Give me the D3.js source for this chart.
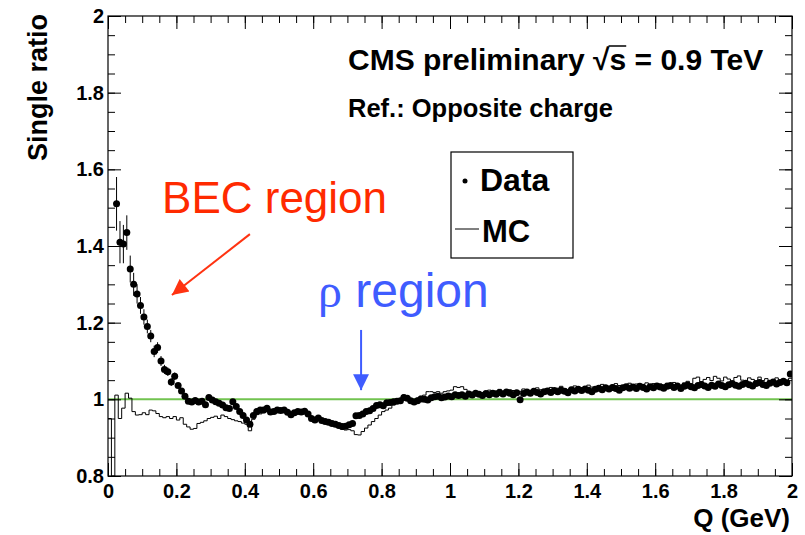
<!DOCTYPE html>
<html>
<head>
<meta charset="utf-8">
<script src="https://cdn.jsdelivr.net/npm/d3@7"></script>
<style>
  body { margin: 0; background: #fff; }
  svg { display: block; font-family: "Liberation Sans", Arial, sans-serif; }
</style>
</head>
<body>
<svg id="chart" width="805" height="535"></svg>
<script>
// Histogram binning: 200 bins of 0.01 GeV from Q = 0 to 2
const binStart = 0;
const binWidth = 0.01;

// Data (single ratio), one value per bin, null where empty
const dataValues = [
  null, null, 1.51, 1.41, 1.405, 1.435, 1.34, 1.30, 1.275, 1.245,
  1.215, 1.19, 1.165, 1.125, 1.135, 1.10, 1.078, 1.072, 1.045, 1.06,
  1.036, 1.022, 1.008, 0.995, 0.993, 0.997, 0.993, 0.995, 0.986, 1.005,
  0.998, 0.994, 0.990, 0.985, 0.978, 0.976, 0.994, 0.981, 0.968, 0.958,
  0.946, 0.935, 0.958, 0.968, 0.972, 0.972, 0.977, 0.967, 0.968, 0.972,
  0.971, 0.972, 0.966, 0.960, 0.965, 0.968, 0.967, 0.969, 0.962, 0.950,
  0.946, 0.951, 0.945, 0.942, 0.940, 0.937, 0.935, 0.932, 0.929, 0.930,
  0.934, 0.937, 0.957, 0.958, 0.962, 0.968, 0.970, 0.976, 0.984, 0.986,
  0.983, 0.991, 0.992, 0.994, 0.995, 0.996, 1.005, 1.003, 0.996, 0.993,
  0.996, 1.001, 1.000, 0.998, 1.004, 1.007, 1.008, 1.004, 1.006, 1.009,
  1.007, 1.012, 1.010, 1.012, 1.008, 1.014, 1.011, 1.016, 1.013, 1.010,
  1.015, 1.012, 1.016, 1.013, 1.018, 1.014, 1.019, 1.016, 1.012, 1.017,
  0.999, 1.015, 1.019, 1.016, 1.021, 1.018, 1.014, 1.020, 1.022, 1.018,
  1.023, 1.020, 1.024, 1.021, 1.017, 1.025, 1.022, 1.026, 1.023, 1.027,
  1.024, 1.020, 1.026, 1.029, 1.025, 1.030, 1.027, 1.031, 1.028, 1.024,
  1.030, 1.033, 1.029, 1.032, 1.028, 1.034, 1.031, 1.027, 1.033, 1.030,
  1.035, 1.032, 1.029, 1.034, 1.036, 1.031, 1.035, 1.028, 1.034, 1.037,
  1.033, 1.030, 1.036, 1.039, 1.035, 1.031, 1.037, 1.034, 1.040, 1.036,
  1.033, 1.038, 1.041, 1.037, 1.034, 1.039, 1.042, 1.038, 1.035, 1.041,
  1.044, 1.039, 1.036, 1.042, 1.045, 1.040, 1.044, 1.047, 1.043, 1.066
];

// Statistical errors, only visible ones (low Q)
const dataErrors = [
  0, 0, 0.07, 0.055, 0.05, 0.045, 0.035, 0.03, 0.025, 0.022,
  0.02, 0.018, 0.016, 0.015, 0.014, 0.013, 0.012, 0.011, 0.01, 0.01
];

// MC single ratio, one value per bin
const mcValues = [
  0.95, 0, 1.011, 0.95, 0.977, 1.016, 1.003, 0.968, 0.959, 0.960,
  0.965, 0.960, 0.972, 0.970, 0.963, 0.955, 0.952, 0.955, 0.950, 0.955,
  0.946, 0.952, 0.935, 0.928, 0.922, 0.924, 0.937, 0.940, 0.944, 0.950,
  0.953, 0.956, 0.950, 0.959, 0.955, 0.950, 0.947, 0.944, 0.942, 0.938,
  0.935, 0.918, 0.948, 0.960, 0.962, 0.965, 0.968, 0.966, 0.970, 0.967,
  0.972, 0.968, 0.966, 0.963, 0.966, 0.969, 0.965, 0.968, 0.962, 0.955,
  0.950, 0.947, 0.944, 0.940, 0.938, 0.935, 0.930, 0.926, 0.922, 0.920,
  0.921, 0.918, 0.908, 0.907, 0.916, 0.925, 0.933, 0.942, 0.950, 0.959,
  0.968, 0.972, 0.977, 0.985, 0.990, 0.994, 1.011, 1.003, 0.994, 1.000,
  1.003, 1.008, 1.011, 1.020, 1.020, 1.018, 1.020, 1.016, 1.020, 1.022,
  1.024, 1.033, 1.031, 1.033, 1.026, 1.016, 1.014, 1.012, 1.018, 1.015,
  1.020, 1.024, 1.019, 1.022, 1.026, 1.021, 1.018, 1.025, 1.023, 1.019,
  1.021, 1.027, 1.024, 1.020, 1.026, 1.030, 1.025, 1.022, 1.028, 1.031,
  1.026, 1.029, 1.034, 1.028, 1.025, 1.031, 1.035, 1.030, 1.027, 1.033,
  1.037, 1.032, 1.029, 1.035, 1.039, 1.034, 1.031, 1.037, 1.041, 1.036,
  1.033, 1.038, 1.042, 1.036, 1.040, 1.035, 1.039, 1.043, 1.037, 1.041,
  1.036, 1.040, 1.038, 1.042, 1.039, 1.044, 1.040, 1.037, 1.043, 1.047,
  1.041, 1.055, 1.058, 1.046, 1.052, 1.057, 1.049, 1.060, 1.055, 1.048,
  1.058, 1.053, 1.046, 1.057, 1.061, 1.050, 1.044, 1.056, 1.052, 1.047,
  1.058, 1.049, 1.054, 1.045, 1.051, 1.056, 1.048, 1.053, 1.047, 1.055
];

const xTicks = [0, 0.2, 0.4, 0.6, 0.8, 1, 1.2, 1.4, 1.6, 1.8, 2];
const xTickLabels = ["0", "0.2", "0.4", "0.6", "0.8", "1", "1.2", "1.4", "1.6", "1.8", "2"];
const yTicks = [0.8, 1, 1.2, 1.4, 1.6, 1.8, 2];
const yTickLabels = ["0.8", "1", "1.2", "1.4", "1.6", "1.8", "2"];
const minorStep = 0.05;

const svg = d3.select('#chart');
const frameLeft = 108, frameRight = 792, frameTop = 16, frameBottom = 476;

const x = d3.scaleLinear().domain([0, 2]).range([frameLeft, frameRight]);
const y = d3.scaleLinear().domain([0.8, 2]).range([frameBottom, frameTop]).clamp(true);

svg.append('rect').attr('width', 805).attr('height', 535).attr('fill', '#fff');

svg.append('clipPath').attr('id', 'plot')
  .append('rect').attr('x', frameLeft).attr('y', frameTop)
  .attr('width', frameRight - frameLeft).attr('height', frameBottom - frameTop);

const plot = svg.append('g').attr('clip-path', 'url(#plot)');

// reference line at 1
plot.append('line')
  .attr('x1', x(0)).attr('x2', x(2))
  .attr('y1', y(1)).attr('y2', y(1))
  .attr('stroke', '#72c350').attr('stroke-width', 2);

// MC histogram outline
const mcSteps = mcValues.map((v, i) => ({ q: binStart + i * binWidth, v }));
mcSteps.push({ q: binStart + mcValues.length * binWidth, v: mcValues[mcValues.length - 1] });
plot.append('path')
  .datum(mcSteps)
  .attr('d', d3.line().x(d => x(d.q)).y(d => y(d.v)).curve(d3.curveStepAfter))
  .attr('fill', 'none').attr('stroke', '#000').attr('stroke-width', 1);

// data points
const points = dataValues
  .map((v, i) => ({ q: binStart + (i + 0.5) * binWidth, v, e: dataErrors[i] || 0 }))
  .filter(d => d.v !== null);

plot.selectAll('line.err')
  .data(points.filter(d => d.e > 0))
  .enter().append('line')
  .attr('class', 'err')
  .attr('x1', d => x(d.q)).attr('x2', d => x(d.q))
  .attr('y1', d => y(d.v - d.e)).attr('y2', d => y(d.v + d.e))
  .attr('stroke', '#000').attr('stroke-width', 1);

plot.selectAll('circle.pt')
  .data(points)
  .enter().append('circle')
  .attr('class', 'pt')
  .attr('cx', d => x(d.q)).attr('cy', d => y(d.v))
  .attr('r', 3.5).attr('fill', '#000');

// frame
svg.append('rect')
  .attr('x', frameLeft).attr('y', frameTop)
  .attr('width', frameRight - frameLeft).attr('height', frameBottom - frameTop)
  .attr('fill', 'none').attr('stroke', '#000').attr('stroke-width', 1.2);

// ticks on all four sides
const xMinor = d3.range(0, 2 + 1e-9, minorStep);
const yMinor = d3.range(0.8, 2 + 1e-9, minorStep);
const major = 13, minor = 7;

function addAxis(axis, tx, ty) {
  const g = svg.append('g').attr('transform', `translate(${tx},${ty})`).call(axis);
  g.select('.domain').remove();
  g.selectAll('line').attr('stroke', '#000');
  return g;
}

addAxis(d3.axisBottom(x).tickValues(xMinor).tickSize(-minor).tickFormat(''), 0, frameBottom);
addAxis(d3.axisTop(x).tickValues(xMinor).tickSize(-minor).tickFormat(''), 0, frameTop);
addAxis(d3.axisLeft(y).tickValues(yMinor).tickSize(-minor).tickFormat(''), frameLeft, 0);
addAxis(d3.axisRight(y).tickValues(yMinor).tickSize(-minor).tickFormat(''), frameRight, 0);

const xAxis = addAxis(d3.axisBottom(x).tickValues(xTicks).tickSize(-major)
  .tickFormat((d, i) => xTickLabels[i]), 0, frameBottom);
addAxis(d3.axisTop(x).tickValues(xTicks).tickSize(-major).tickFormat(''), 0, frameTop);
const yAxis = addAxis(d3.axisLeft(y).tickValues(yTicks).tickSize(-major)
  .tickFormat((d, i) => yTickLabels[i]), frameLeft, 0);
addAxis(d3.axisRight(y).tickValues(yTicks).tickSize(-major).tickFormat(''), frameRight, 0);

xAxis.selectAll('text')
  .attr('y', 8).attr('dy', '0.71em')
  .style('font-size', '20px').style('font-weight', 'bold')
  .style('font-family', '"Liberation Sans", Arial, sans-serif').attr('fill', '#000');
yAxis.selectAll('text')
  .attr('x', -4)
  .style('font-size', '20px').style('font-weight', 'bold')
  .style('font-family', '"Liberation Sans", Arial, sans-serif').attr('fill', '#000');

// axis titles
svg.append('text')
  .attr('transform', 'translate(47,14) rotate(-90)')
  .attr('text-anchor', 'end')
  .style('font-size', '27px').style('font-weight', 'bold')
  .text('Single ratio');

svg.append('text')
  .attr('x', 790).attr('y', 527)
  .attr('text-anchor', 'end')
  .style('font-size', '26px').style('font-weight', 'bold')
  .text('Q (GeV)');

// header texts
const cms = svg.append('text')
  .attr('x', 348).attr('y', 70)
  .style('font-size', '30px').style('font-weight', 'bold')
  .text('CMS preliminary \u221As = 0.9 TeV');
const cmsNode = cms.node();
const sIdx = cmsNode.textContent.indexOf('\u221A') + 1;
const sPos = cmsNode.getStartPositionOfChar(sIdx);
const sLen = cmsNode.getSubStringLength(sIdx, 1);
svg.append('line')
  .attr('x1', sPos.x - 1).attr('x2', sPos.x + sLen)
  .attr('y1', 46).attr('y2', 46)
  .attr('stroke', '#000').attr('stroke-width', 1.5);

svg.append('text')
  .attr('x', 348).attr('y', 117)
  .style('font-size', '25.5px').style('font-weight', 'bold')
  .text('Ref.: Opposite charge');

// legend
const legend = svg.append('g');
legend.append('rect')
  .attr('x', 451).attr('y', 152).attr('width', 122).attr('height', 106)
  .attr('fill', '#fff').attr('stroke', '#000').attr('stroke-width', 1.2);
legend.append('circle').attr('cx', 465).attr('cy', 181).attr('r', 2.5).attr('fill', '#000');
legend.append('text').attr('x', 480).attr('y', 191)
  .style('font-size', '32px').style('font-weight', 'bold').text('Data');
legend.append('line').attr('x1', 455).attr('x2', 479).attr('y1', 229).attr('y2', 229)
  .attr('stroke', '#000').attr('stroke-width', 1);
legend.append('text').attr('x', 482).attr('y', 242)
  .style('font-size', '31px').style('font-weight', 'bold').text('MC');

// annotations
const defs = svg.append('defs');
function arrowHead(id, color) {
  defs.append('marker')
    .attr('id', id).attr('viewBox', '0 0 10 10')
    .attr('refX', 10).attr('refY', 5)
    .attr('markerWidth', 18).attr('markerHeight', 16)
    .attr('markerUnits', 'userSpaceOnUse')
    .attr('orient', 'auto')
    .append('path').attr('d', 'M0,0 L10,5 L0,10 Z').attr('fill', color);
}
arrowHead('redHead', '#ff3311');
arrowHead('blueHead', '#3f5cff');

svg.append('text')
  .attr('x', x(0.158)).attr('y', y(1.486))
  .attr('fill', '#ff2a00')
  .style('font-size', '44px')
  .text('BEC region');

svg.append('line')
  .attr('x1', x(0.415)).attr('y1', y(1.431))
  .attr('x2', x(0.187)).attr('y2', y(1.272))
  .attr('stroke', '#ff3311').attr('stroke-width', 2)
  .attr('marker-end', 'url(#redHead)');

const rho = svg.append('text')
  .attr('x', x(0.614)).attr('y', y(1.241))
  .attr('fill', '#3f5cff')
  .style('font-size', '48px');
rho.append('tspan').style('font-family', '"Liberation Serif", "DejaVu Serif", serif').text('\u03C1');
rho.append('tspan').text(' region');

svg.append('line')
  .attr('x1', x(0.74)).attr('y1', y(1.181))
  .attr('x2', x(0.74)).attr('y2', y(1.024))
  .attr('stroke', '#3f5cff').attr('stroke-width', 2)
  .attr('marker-end', 'url(#blueHead)');
</script>
</body>
</html>
